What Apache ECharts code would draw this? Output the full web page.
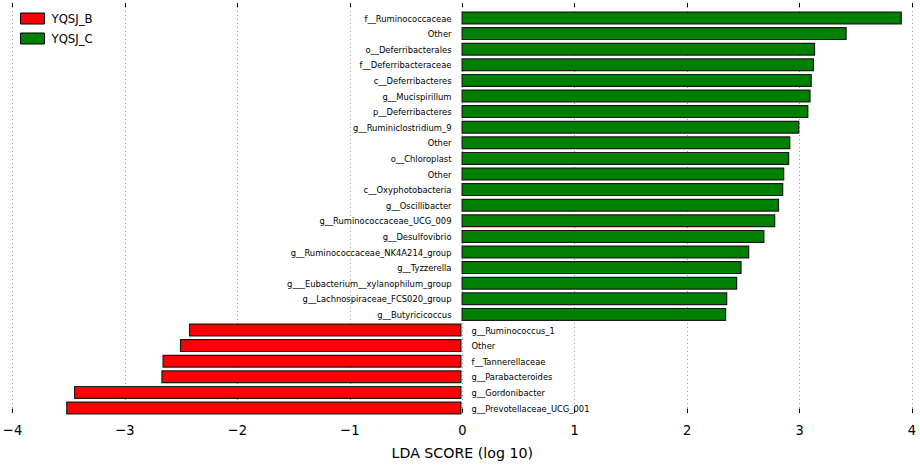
<!DOCTYPE html>
<html>
<head>
<meta charset="utf-8">
<script src="https://cdn.jsdelivr.net/npm/echarts@6/dist/echarts.min.js"></script>
<style>
  html, body { margin: 0; padding: 0; background: #fff; }
  #chart { width: 920px; height: 465px; }
</style>
</head>
<body>
<div id="chart"></div>
<script>
// taxa from top to bottom
var taxa = [
  'f__Ruminococcaceae', 'Other', 'o__Deferribacterales', 'f__Deferribacteraceae',
  'c__Deferribacteres', 'g__Mucispirillum', 'p__Deferribacteres', 'g__Ruminiclostridium_9',
  'Other', 'o__Chloroplast', 'Other', 'c__Oxyphotobacteria', 'g__Oscillibacter',
  'g__Ruminococcaceae_UCG_009', 'g__Desulfovibrio', 'g__Ruminococcaceae_NK4A214_group',
  'g__Tyzzerella', 'g___Eubacterium__xylanophilum_group', 'g__Lachnospiraceae_FCS020_group',
  'g__Butyricicoccus', 'g__Ruminococcus_1', 'Other', 'f__Tannerellaceae',
  'g__Parabacteroides', 'g__Gordonibacter', 'g__Prevotellaceae_UCG_001'
];
// LDA scores, '-' where the taxon belongs to the other group
var groupB = ['-', '-', '-', '-', '-', '-', '-', '-', '-', '-', '-', '-', '-',
  '-', '-', '-', '-', '-', '-', '-', -2.42, -2.50, -2.655, -2.665, -3.44, -3.51];
var groupC = [3.91, 3.42, 3.14, 3.13, 3.11, 3.10, 3.08, 3.00, 2.92, 2.91, 2.866, 2.857, 2.82,
  2.786, 2.69, 2.555, 2.487, 2.448, 2.36, 2.35, '-', '-', '-', '-', '-', '-'];
var groupNames = ['YQSJ_B', 'YQSJ_C'];
var xTicks = [-4, -3, -2, -1, 0, 1, 2, 3, 4];

var chart = echarts.init(document.getElementById('chart'), null, { renderer: 'svg' });
var font = '"DejaVu Sans Condensed", "DejaVu Sans"';
var tickLabel = function(v) { return v < 0 ? '\u2212' + Math.abs(v) : String(v); };

chart.setOption({
  animation: false,
  textStyle: { fontFamily: font },
  legend: {
    data: groupNames,
    orient: 'vertical',
    left: 15, top: 7,
    itemWidth: 24, itemHeight: 11, itemGap: 7,
    icon: 'rect',
    itemStyle: { borderColor: '#000', borderWidth: 1 },
    textStyle: { fontSize: 13, color: '#000', fontFamily: font, padding: [0, 0, 0, 2] }
  },
  grid: [
    { left: 11, right: 8, top: 3, bottom: 43 },
    { left: 11, right: 8, top: 10.2, bottom: 49.2 }
  ],
  xAxis: [
    {
      gridIndex: 0, type: 'value', min: xTicks[0], max: xTicks[xTicks.length - 1], interval: 1,
      position: 'bottom',
      name: 'LDA SCORE (log 10)', nameLocation: 'middle', nameGap: 33,
      nameTextStyle: { fontSize: 14.2, color: '#000', fontFamily: 'DejaVu Sans' },
      axisLine: { show: false },
      axisTick: { show: true, inside: true, length: 4.5, lineStyle: { color: '#000', width: 1 } },
      axisLabel: { fontSize: 14.5, color: '#000', margin: 9, formatter: tickLabel, fontFamily: font },
      splitLine: { show: true, lineStyle: { color: '#999', type: [1, 3], width: 1 } }
    },
    {
      gridIndex: 0, type: 'value', min: xTicks[0], max: xTicks[xTicks.length - 1], interval: 1,
      position: 'top',
      axisLine: { show: false },
      axisTick: { show: true, inside: true, length: 4, lineStyle: { color: '#000', width: 1 } },
      axisLabel: { show: false },
      splitLine: { show: false }
    },
    {
      gridIndex: 1, type: 'value', min: xTicks[0], max: xTicks[xTicks.length - 1],
      show: false
    }
  ],
  yAxis: [
    { gridIndex: 0, type: 'value', min: 0, max: 1, show: false },
    { gridIndex: 1, type: 'category', data: taxa, inverse: true, show: false }
  ],
  series: [
    {
      name: groupNames[0], type: 'bar', stack: 'lda',
      xAxisIndex: 2, yAxisIndex: 1,
      data: groupB,
      barWidth: 13,
      itemStyle: { color: '#ff0000', borderColor: '#1a1a1a', borderWidth: 1.2 },
      label: {
        show: true, position: 'right', distance: 10, formatter: '{b}',
        fontSize: 9.3, color: '#000', fontFamily: font
      }
    },
    {
      name: groupNames[1], type: 'bar', stack: 'lda',
      xAxisIndex: 2, yAxisIndex: 1,
      data: groupC,
      barWidth: 13,
      itemStyle: { color: '#008000', borderColor: '#1a1a1a', borderWidth: 1.2 },
      label: {
        show: true, position: 'left', distance: 10, formatter: '{b}',
        fontSize: 9.3, color: '#000', fontFamily: font
      }
    }
  ]
});
</script>
</body>
</html>
